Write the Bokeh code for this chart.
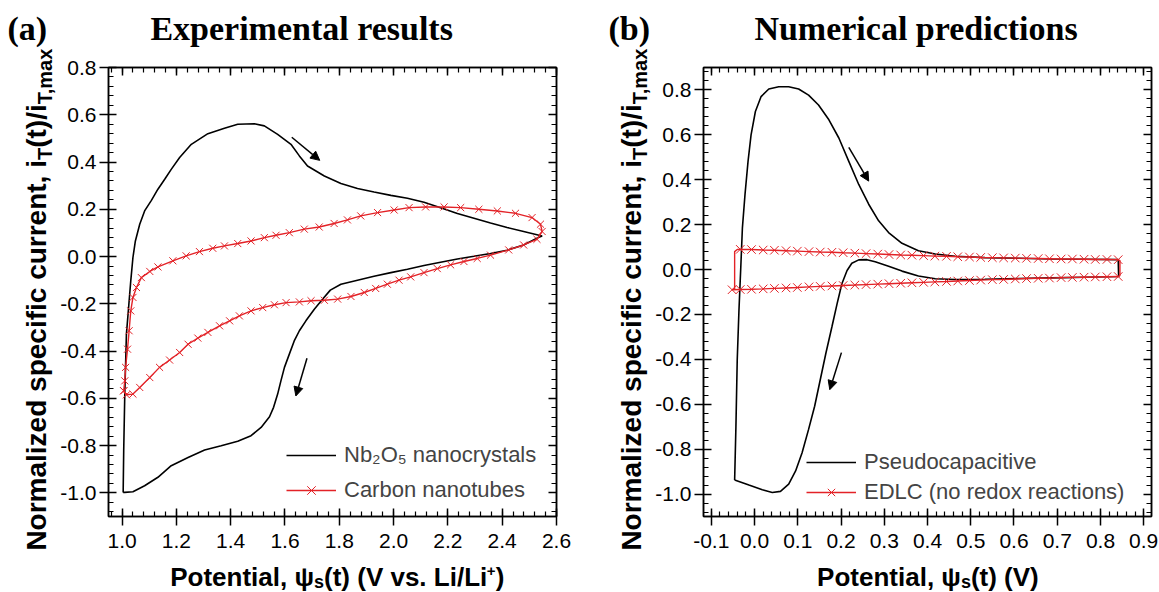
import math
from bokeh.plotting import figure
from bokeh.models import (Range1d, LinearAxis, SingleIntervalTicker, NumeralTickFormatter,
                          CustomJSTickFormatter, Label, Arrow, NormalHead, Legend, LegendItem)
from bokeh.layouts import row, column
from bokeh.embed import file_html
from bokeh.resources import INLINE

# ---------------- data: panel (a) experimental ----------------
nb_x = [1.004, 1.006, 1.010, 1.016, 1.025, 1.032, 1.040, 1.049, 1.065, 1.083, 1.108, 1.132,
        1.157, 1.181, 1.212, 1.255, 1.316, 1.377, 1.426, 1.487, 1.524, 1.573, 1.622, 1.653, 1.683,
        1.745, 1.806, 1.867, 1.928, 1.990, 2.051, 2.112, 2.173, 2.235, 2.296, 2.357, 2.418,
        2.479, 2.547,
        2.528, 2.479, 2.418, 2.357, 2.296, 2.235, 2.173, 2.112, 2.051, 1.990, 1.928, 1.867,
        1.806, 1.767, 1.739, 1.708, 1.677, 1.653, 1.634, 1.616, 1.598, 1.585, 1.573, 1.558,
        1.543, 1.512, 1.475, 1.426, 1.365, 1.304, 1.243, 1.181, 1.132, 1.083, 1.040, 1.010, 1.004]
nb_y = [-0.998, -0.822, -0.582, -0.328, -0.202, -0.103, -0.004, 0.066, 0.137, 0.193, 0.238, 0.285,
        0.327, 0.369, 0.419, 0.475, 0.520, 0.543, 0.560, 0.562, 0.553, 0.517, 0.475, 0.426, 0.383,
        0.341, 0.309, 0.288, 0.273, 0.259, 0.247, 0.230, 0.207, 0.182, 0.162, 0.142, 0.123,
        0.106, 0.087,
        0.078, 0.049, 0.027, 0.013, 0.001, -0.010, -0.024, -0.038, -0.054, -0.068, -0.083, -0.100,
        -0.117, -0.142, -0.180, -0.223, -0.272, -0.314, -0.357, -0.413, -0.469, -0.526, -0.582, -0.638,
        -0.678, -0.723, -0.758, -0.782, -0.801, -0.819, -0.850, -0.885, -0.934, -0.970, -0.995, -0.998, -0.998]

cnt_x = [1.006, 1.010, 1.013, 1.020, 1.026, 1.032, 1.040, 1.053, 1.071, 1.102, 1.132, 1.187,
         1.236, 1.285, 1.334, 1.377, 1.426, 1.475, 1.524, 1.567, 1.616, 1.671, 1.726, 1.781,
         1.830, 1.879, 1.941, 2.002, 2.057, 2.118, 2.186, 2.247, 2.314, 2.382, 2.449, 2.510,
         2.541, 2.547,
         2.528, 2.479, 2.424, 2.357, 2.308, 2.259, 2.210, 2.161, 2.112, 2.063, 2.020, 1.977,
         1.934, 1.892, 1.843, 1.794, 1.745, 1.696, 1.653, 1.604, 1.561, 1.518, 1.475, 1.432,
         1.396, 1.359, 1.316, 1.279, 1.243, 1.212, 1.175, 1.138, 1.102, 1.065, 1.040, 1.016, 1.006]
cnt_y = [-0.568, -0.526, -0.469, -0.392, -0.314, -0.230, -0.173, -0.131, -0.089, -0.063, -0.044, -0.018,
         0.003, 0.021, 0.035, 0.045, 0.055, 0.066, 0.080, 0.090, 0.101, 0.116, 0.125, 0.140,
         0.155, 0.172, 0.186, 0.197, 0.207, 0.210, 0.210, 0.207, 0.200, 0.193, 0.183, 0.165,
         0.137, 0.106,
         0.073, 0.049, 0.028, 0.006, -0.008, -0.021, -0.035, -0.051, -0.068, -0.086, -0.100, -0.117,
         -0.135, -0.152, -0.169, -0.180, -0.185, -0.187, -0.192, -0.195, -0.204, -0.216, -0.230, -0.251,
         -0.272, -0.293, -0.321, -0.345, -0.371, -0.406, -0.438, -0.469, -0.512, -0.554, -0.582, -0.585, -0.568]

# ---------------- data: panel (b) numerical ----------------
ps_x = [-0.046, -0.043, -0.040, -0.036, -0.032, -0.028, -0.022, -0.015, -0.008, 0.002, 0.015, 0.033,
        0.056, 0.079, 0.102, 0.125, 0.148, 0.172, 0.195, 0.218, 0.241, 0.264, 0.287, 0.310,
        0.341, 0.379, 0.418, 0.464, 0.533, 0.610, 0.687, 0.764, 0.841,
        0.842, 0.764, 0.687, 0.610, 0.533, 0.464, 0.418, 0.379, 0.341, 0.310, 0.279, 0.260,
        0.241, 0.225, 0.214, 0.202, 0.191, 0.179, 0.165, 0.152, 0.139, 0.125, 0.110, 0.095,
        0.079, 0.060, 0.041, 0.018, -0.013, -0.046]
ps_y = [-0.937, -0.698, -0.403, -0.181, 0.000, 0.187, 0.335, 0.482, 0.600, 0.704, 0.770, 0.804,
        0.814, 0.814, 0.804, 0.777, 0.733, 0.667, 0.586, 0.482, 0.379, 0.291, 0.217, 0.165,
        0.117, 0.084, 0.069, 0.059, 0.053, 0.050, 0.047, 0.046, 0.044,
        -0.031, -0.034, -0.037, -0.040, -0.043, -0.044, -0.041, -0.029, -0.007, 0.015, 0.035, 0.044,
        0.043, 0.028, -0.004, -0.063, -0.152, -0.255, -0.373, -0.491, -0.609, -0.712, -0.816, -0.897,
        -0.956, -0.988, -0.993, -0.981, -0.960, -0.937]

edlc_up_x = [-0.033, -0.007, 0.020, 0.046, 0.073, 0.099, 0.126, 0.152, 0.179, 0.205, 0.232, 0.258,
             0.285, 0.311, 0.338, 0.364, 0.391, 0.417, 0.444, 0.470, 0.497, 0.523, 0.550, 0.576,
             0.603, 0.629, 0.656, 0.682, 0.709, 0.735, 0.762, 0.788, 0.815, 0.841]
edlc_up_y = [0.090, 0.089, 0.087, 0.086, 0.084, 0.082, 0.080, 0.078, 0.077, 0.075, 0.073, 0.071,
             0.069, 0.067, 0.065, 0.064, 0.062, 0.060, 0.059, 0.057, 0.056, 0.054, 0.053, 0.052,
             0.051, 0.050, 0.049, 0.048, 0.047, 0.047, 0.046, 0.045, 0.045, 0.044]
edlc_lo_x = [0.841, 0.815, 0.788, 0.762, 0.735, 0.709, 0.682, 0.656, 0.629, 0.603, 0.576, 0.550,
             0.523, 0.497, 0.470, 0.444, 0.417, 0.391, 0.364, 0.338, 0.311, 0.285, 0.258, 0.232,
             0.205, 0.179, 0.152, 0.126, 0.099, 0.073, 0.046, 0.020, -0.007, -0.033, -0.052]
edlc_lo_y = [-0.031, -0.032, -0.033, -0.034, -0.035, -0.036, -0.038, -0.039, -0.040, -0.042, -0.044, -0.045,
             -0.047, -0.049, -0.051, -0.053, -0.055, -0.057, -0.059, -0.061, -0.063, -0.065, -0.067, -0.069,
             -0.071, -0.073, -0.075, -0.077, -0.080, -0.082, -0.084, -0.086, -0.088, -0.089, -0.090]
edlc_right_x = [0.845, 0.845]
edlc_right_y = [0.040, -0.027]
edlc_left_x = [-0.046, -0.046, -0.040]
edlc_left_y = [-0.086, 0.080, 0.089]

# arrows (start x, start y, end x, end y)
arrows_a = [(1.625, 0.505, 1.728, 0.407), (1.681, -0.430, 1.640, -0.590)]
arrows_b = [(0.218, 0.544, 0.264, 0.394), (0.201, -0.370, 0.174, -0.535)]

RED = "#e32227"
SANS = "Liberation Sans"
SERIF = "Liberation Serif"
H = 592
TOP_H = 50
FIG_TOP, FIG_BOT = 17, 42
FIG_H = FIG_TOP + 449 + FIG_BOT
BOT_H = H - TOP_H - FIG_H
# page geometry (pixels from the top-left corner of the page)
YA_W, A_W, YB_W, B_W = 57, 533, 62, 507
A_BL, A_BR, B_BL, B_BR = 50, 34, 50, 8
A_FL = YA_W + A_BL
A_FR = YA_W + A_W - A_BR
B_X0 = YA_W + A_W + YB_W
B_FL = B_X0 + B_BL
B_FR = B_X0 + B_W - B_BR


def make_fig(xr, yr, xint, yint, width, mbl, mbr):
    p = figure(width=width, height=FIG_H, x_range=Range1d(*xr), y_range=Range1d(*yr),
               output_backend="svg", toolbar_location=None, title=None,
               min_border_left=mbl, min_border_right=mbr,
               min_border_top=FIG_TOP, min_border_bottom=FIG_BOT,
               x_axis_type=None, y_axis_type=None)
    p.outline_line_color = "black"
    p.outline_line_width = 1.5
    p.background_fill_color = "white"
    p.border_fill_color = "white"
    xt = SingleIntervalTicker(interval=xint, num_minor_ticks=5)
    yt = SingleIntervalTicker(interval=yint, num_minor_ticks=5)
    for side, ticker, labeled in [("below", xt, True), ("above", xt, False),
                                  ("left", yt, True), ("right", yt, False)]:
        ax = LinearAxis(ticker=ticker)
        ax.axis_line_width = 1.5
        ax.major_tick_line_width = 1.5
        ax.minor_tick_line_width = 1.2
        ax.major_tick_in = 8
        ax.minor_tick_in = 5
        ax.minor_tick_out = 0
        ax.axis_label_standoff = 0
        if labeled:
            ax.formatter = NumeralTickFormatter(format="0.0")
            ax.major_tick_out = 9
            ax.major_label_text_font = SANS
            ax.major_label_text_font_size = "21px"
            ax.major_label_text_color = "black"
            ax.major_label_standoff = 8 if side == "below" else 3
        else:
            ax.formatter = CustomJSTickFormatter(code="return ''")
            ax.major_tick_out = 0
            ax.major_label_text_font_size = "1px"
            ax.major_label_standoff = 0
        p.add_layout(ax, side)
    return p


def text_fig(w, h, x0, x1, y0, y1, bl=0, br=0):
    """figure whose frame spans page x x0..x1 and page y y0..y1; data units = page pixels"""
    f = figure(width=w, height=h, x_range=Range1d(x0, x1), y_range=Range1d(y1, y0),
               output_backend="svg", toolbar_location=None, title=None,
               min_border_left=bl, min_border_right=br, min_border_top=0, min_border_bottom=0,
               x_axis_type=None, y_axis_type=None)
    f.outline_line_color = None
    f.background_fill_color = "white"
    f.border_fill_color = "white"
    return f


def tlab(f, X, Y, text, size, font=SANS, style="bold", align="left", angle=0.0):
    """text with its baseline at page position (X, Y); anchor is placed at the text-box middle"""
    k = 0.34 * size
    if angle:
        ax_, ay_ = X - k, Y
    else:
        ax_, ay_ = X, Y - k
    f.add_layout(Label(x=ax_, y=ay_, x_units="data", y_units="data", text=text,
                       text_font=font, text_font_style=style, text_font_size=f"{size}px",
                       text_align=align, text_baseline="middle", text_color="black",
                       angle=angle))


def y_label(f, xb, ytop):
    fs, sfs, sub = 28, 20, 5
    wT = 0.611 * sfs
    wmid = 1.555 * fs
    wTmax = 2.89 * sfs
    y1 = ytop + wTmax + wmid + wT      # page y where the main text ends
    a = math.pi / 2
    tlab(f, xb, y1, "Normalized specific current, i", fs, align="right", angle=a)
    tlab(f, xb + sub, y1, "T", sfs, angle=a)
    tlab(f, xb, y1 - wT, "(t)/i", fs, angle=a)
    tlab(f, xb + sub, y1 - wT - wmid, "T,max", sfs, angle=a)


# ---------------- panel (a) ----------------
pa = make_fig((0.95, 2.6), (-1.1, 0.8), 0.2, 0.2, A_W, A_BL, A_BR)
la = pa.line(nb_x, nb_y, line_color="black", line_width=1.6)
lc = pa.line(cnt_x, cnt_y, line_color=RED, line_width=1.4)
sc = pa.scatter(cnt_x, cnt_y, marker="x", size=10, line_color=RED, line_width=1.0)
for (x0, y0, x1, y1) in arrows_a:
    pa.add_layout(Arrow(x_start=x0, y_start=y0, x_end=x1, y_end=y1, line_width=1.5,
                        end=NormalHead(size=9, fill_color="black", line_color="black")))
leg_a = Legend(items=[LegendItem(label="Nb\u2082O\u2085 nanocrystals", renderers=[la]),
                      LegendItem(label="Carbon nanotubes", renderers=[lc, sc])],
               location=(173, 6), padding=5, spacing=5, glyph_width=50, glyph_height=30,
               label_height=30, label_standoff=8, label_text_font=SANS,
               label_text_font_size="22px", border_line_alpha=0, background_fill_alpha=0,
               margin=0)
pa.add_layout(leg_a, "center")

ya = text_fig(YA_W, H, 0, YA_W, 0, H)
tlab(ya, 7, 40, "(a)", 34, font=SERIF)
y_label(ya, 46, 46)
ta = text_fig(A_W, TOP_H, A_FL, A_FR, 0, TOP_H, A_BL, A_BR)
tlab(ta, 149, 40, "Experimental results", 34, font=SERIF)
OY = TOP_H + FIG_H
xa = text_fig(A_W, BOT_H, A_FL, A_FR, OY, H, A_BL, A_BR)
tlab(xa, 313, 585, "Potential, \u03c8", 26, align="right")
tlab(xa, 313, 588, "s", 18)
tlab(xa, 323, 585, "(t) (V vs. Li/Li", 26)
tlab(xa, 486, 576, "+", 15)
tlab(xa, 495, 585, ")", 26)

# ---------------- panel (b) ----------------
pb = make_fig((-0.118, 0.918), (-1.1, 0.9), 0.1, 0.2, B_W, B_BL, B_BR)
lp = pb.line(ps_x, ps_y, line_color="black", line_width=1.6)
edlc_x = edlc_up_x + edlc_right_x + edlc_lo_x + edlc_left_x + edlc_up_x[:1]
edlc_y = edlc_up_y + edlc_right_y + edlc_lo_y + edlc_left_y + edlc_up_y[:1]
le = pb.line(edlc_x, edlc_y, line_color=RED, line_width=1.4)
se = pb.scatter(edlc_up_x + edlc_lo_x, edlc_up_y + edlc_lo_y, marker="x", size=12,
                line_color=RED, line_width=1.0)
for (x0, y0, x1, y1) in arrows_b:
    pb.add_layout(Arrow(x_start=x0, y_start=y0, x_end=x1, y_end=y1, line_width=1.5,
                        end=NormalHead(size=9, fill_color="black", line_color="black")))
leg_b = Legend(items=[LegendItem(label="Pseudocapacitive", renderers=[lp]),
                      LegendItem(label="EDLC (no redox reactions)", renderers=[le, se])],
               location=(98, 6), padding=5, spacing=4, glyph_width=50, glyph_height=26,
               label_height=26, label_standoff=8, label_text_font=SANS,
               label_text_font_size="22px", border_line_alpha=0, background_fill_alpha=0,
               margin=0)
pb.add_layout(leg_b, "center")

yb = text_fig(YB_W, H, YA_W + A_W, B_X0, 0, H)
tlab(yb, 608, 40, "(b)", 34, font=SERIF)
y_label(yb, 641, 46)
tb = text_fig(B_W, TOP_H, B_FL, B_FR, 0, TOP_H, B_BL, B_BR)
tlab(tb, 753, 40, "Numerical predictions", 34, font=SERIF)
xb = text_fig(B_W, BOT_H, B_FL, B_FR, OY, H, B_BL, B_BR)
tlab(xb, 960, 585, "Potential, \u03c8", 26, align="right")
tlab(xb, 960, 588, "s", 18)
tlab(xb, 970, 585, "(t) (V)", 26)

layout = row(ya, column(ta, pa, xa), yb, column(tb, pb, xb))
open("out.html", "w").write(file_html(layout, INLINE))
